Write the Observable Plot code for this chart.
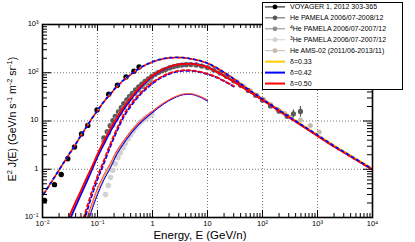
<!DOCTYPE html>
<html><head><meta charset="utf-8">
<script src="https://cdn.jsdelivr.net/npm/d3@7"></script>
<script src="https://cdn.jsdelivr.net/npm/@observablehq/plot@0.6"></script>
<style>
html,body{margin:0;padding:0;background:#fff;}
#wrap{position:relative;width:415px;height:242px;font-family:"Liberation Sans",Arial,Helvetica,sans-serif;}
#legend{position:absolute;left:262px;top:2px;}
</style></head><body><div id="wrap"></div>
<script>
// ---------- tick values & labels ----------
const X_TICKS = [0.01, 0.1, 1, 10, 100, 1000, 10000];
const X_TICK_LABELS = ["10⁻²", "10⁻¹", "1", "10", "10²", "10³", "10⁴"];
const Y_TICKS = [0.1, 1, 10, 100, 1000];
const Y_TICK_LABELS = ["10⁻¹", "1", "10", "10²", "10³"];
const X_TITLE = "Energy, E (GeV/n)";

// ---------- model curves (energy grid, GeV/n) ----------
const E_GRID = [0.01, 0.015, 0.02, 0.03, 0.04, 0.05, 0.065, 0.08, 0.1, 0.13, 0.17, 0.22, 0.3, 0.4, 0.5, 0.7, 1, 1.5, 2, 3, 4, 5, 7, 10, 15, 20, 30, 50, 100, 200, 500, 1000, 2000, 5000, 10000];
// LIS (dashed)
const LIS_033 = [0.29, 0.59, 0.98, 2.02, 3.35, 5.05, 8.1, 11.6, 16.6, 25, 36, 51, 71, 92, 111, 141, 169, 195, 206, 210, 205, 197, 182, 160, 127, 104, 76, 50, 29, 17.2, 8.7, 5.2, 3.1, 1.66, 1.03];
const LIS_042 = [0.28, 0.58, 0.97, 2.0, 3.3, 5.0, 8.0, 11.5, 16.5, 25, 36, 51, 71, 92, 110, 140, 168, 193, 204, 208, 203, 195, 180, 158, 125, 102, 75, 49, 28.5, 16.8, 8.5, 5.1, 3.05, 1.62, 1.0];
const LIS_050 = [0.28, 0.57, 0.96, 1.98, 3.28, 4.95, 7.9, 11.4, 16.3, 24.7, 35.5, 50, 70, 91, 109, 139, 166, 191, 202, 206, 201, 193, 178, 156, 123, 101, 74, 48.5, 28.2, 16.5, 8.3, 4.95, 2.95, 1.57, 0.98];
// modulated He (solid)
const MOD_033 = [null, null, null, 0.09, 0.195, 0.33, 0.65, 1.07, 1.9, 3.5, 6.3, 10.5, 18.4, 28.8, 39.5, 59.5, 85, 115, 133, 150, 155, 155, 148, 131, 105, 88, 67, 46, 28, 16.8, 8.5, 5.1, 3.1, 1.65, 1.03];
const MOD_042 = [null, null, null, 0.08, 0.17, 0.3, 0.58, 1.0, 1.8, 3.3, 6.0, 10, 17.5, 27.7, 38, 58, 84, 114, 132, 149, 154, 154, 147, 130, 104, 87, 66, 45.7, 27.5, 16.5, 8.4, 5.0, 3.0, 1.6, 1.0];
const MOD_050 = [null, null, null, 0.1, 0.21, 0.36, 0.7, 1.15, 2.05, 3.8, 6.8, 11.2, 19.5, 30, 41, 61, 87, 116, 133, 149, 153, 153, 146, 129, 103, 86, 65, 45, 27, 16.2, 8.2, 4.9, 2.95, 1.57, 0.98];
// modulated 4He (dashed, lower)
const HE4_042 = [null, null, null, null, null, 0.05, 0.14, 0.3, 0.62, 1.3, 2.9, 5.8, 12.2, 20, 28, 42, 60, 81, 94, 107, 110, 110, 104, 93, 79, 67, 52, null, null, null, null, null, null, null, null];
const HE4_050 = [null, null, null, null, null, 0.065, 0.17, 0.36, 0.72, 1.5, 3.3, 6.5, 13.5, 22, 30, 45, 63, 84, 97, 110, 113, 112, 106, 95, 80, 68, 53, null, null, null, null, null, null, null, null];
// modulated 3He (thin dotted)
const HE3_033 = [null, null, null, null, null, null, 0.085, 0.17, 0.33, 0.66, 1.15, 2.1, 3.65, 5.7, 7.6, 11.1, 15.5, 22, 27, 33.5, 36, 36, 32.5, 26.5, null, null, null, null, null, null, null, null, null, null, null];
const HE3_042 = [null, null, null, null, null, null, 0.07, 0.15, 0.3, 0.6, 1.05, 1.95, 3.45, 5.4, 7.3, 10.7, 15, 21.5, 26.5, 33, 35.5, 35.5, 32, 26, null, null, null, null, null, null, null, null, null, null, null];
const HE3_050 = [null, null, null, null, null, 0.03, 0.1, 0.2, 0.4, 0.75, 1.3, 2.3, 3.9, 6.0, 8.0, 11.5, 16, 22.5, 27.5, 34, 36.5, 36.5, 33, 27, null, null, null, null, null, null, null, null, null, null, null];

// ---------- data points ----------
const VOY_E = [0.0109, 0.0165, 0.0219, 0.0288, 0.0382, 0.0512, 0.0667, 0.098, 0.16, 0.23, 0.33, 0.46, 0.57];
const VOY_V = [0.225, 0.48, 0.78, 1.65, 2.9, 5.4, 8.1, 17, 36, 55, 82, 108, 132];
const PAM_E = [0.13, 0.15, 0.17, 0.19, 0.21, 0.24, 0.27, 0.3, 0.34, 0.38, 0.43, 0.49, 0.56, 0.64, 0.73, 0.84, 0.97, 1.12, 1.3, 1.5, 1.75, 2.05, 2.4, 2.85, 3.4, 4.1, 5.0, 6.2, 7.8, 10, 13, 17, 22, 30, 40, 55, 75, 100, 140, 200, 280, 365, 490];
const PAM_V = [4.5, 6.0, 8.0, 10.2, 12.5, 15.5, 19, 23, 27.5, 32, 37.5, 44, 51, 58, 66, 75, 84, 93, 102, 110, 118, 126, 133, 139, 144, 147, 148, 145, 138, 128, 114, 99, 85, 68, 55, 43, 34, 27, 20.5, 16, 12.5, 14.1, 15.8];
const PAM_ERR_E = [365, 490];
const PAM_ERR_LO = [11.5, 12];
const PAM_ERR_HI = [17, 20];
const HE4P_E = [0.13, 0.16, 0.19, 0.22, 0.26, 0.3, 0.35, 0.41, 0.48, 0.56, 0.66, 0.78, 0.92];
const HE4P_V = [3.8, 5.7, 8.2, 11, 14.5, 19, 24, 30, 36.5, 43.5, 51, 60, 69];
const HE3P_E = [0.14, 0.157, 0.172, 0.19, 0.21, 0.235, 0.26, 0.29, 0.32, 0.36, 0.4, 0.45, 0.5, 0.565, 0.64, 0.72, 0.8, 0.9, 0.98];
const HE3P_V = [0.3, 0.46, 0.68, 0.95, 1.3, 1.75, 2.2, 2.8, 3.4, 4.3, 5.2, 6.3, 7.4, 8.7, 10, 11.2, 12.2, 13.3, 14.1];
const AMS_E = [1.2, 1.6, 2.1, 2.8, 3.7, 4.9, 6.5, 8.6, 11.4, 15, 20, 26, 35, 46, 61, 80, 106, 140, 185, 250, 330, 490, 740, 1070];
const AMS_V = [100, 117, 130, 140, 146, 148, 144, 135, 122, 108, 92, 78, 64, 52, 42, 34, 27.5, 22, 17.5, 14.5, 12, 10.5, 8.1, 5.9];

// ---------- legend ----------
const LEG_SUP = ["", "", "4", "3", "", "", "", ""];
const LEG_TEXT = ["VOYAGER 1, 2012 303-365", "He PAMELA 2006/07-2008/12", "He PAMELA 2006/07-2007/12", "He PAMELA 2006/07-2007/12", "He AMS-02 (2011/06-2013/11)", "δ=0.33", "δ=0.42", "δ=0.50"];
const LEG_COLOR = ["#000000", "#5a5a5a", "#8e8e8e", "#d2d2d2", "#c6bab0", "#ffcc00", "#0000ff", "#ff0000"];
const LEG_MARKER = [true, true, true, true, true, false, false, false];

const YEL = "#ffcc00", BLU = "#0000ff", RED = "#ff0000";
const W = 415, H = 242, ML = 42, MR = 43, MT = 24, MB = 25;
const FW = W - ML - MR, FH = H - MT - MB;

const rows = (vals) => E_GRID.map((E, i) => ({E, v: vals[i]})).filter(d => d.v != null);
const pts = (es, vs) => es.map((E, i) => ({E, v: vs[i]}));

const minorX = d3.range(-2, 4).flatMap(p => d3.range(2, 10).map(m => m * 10 ** p));
const minorY = d3.range(-1, 3).flatMap(p => d3.range(2, 10).map(m => m * 10 ** p));

const line = (vals, stroke, sw, dash, off = 0) => Plot.line(rows(vals), {x: "E", y: "v", stroke, strokeWidth: sw, strokeDasharray: dash, strokeDashoffset: off, curve: "monotone-x", clip: true});

const chart = Plot.plot({
  width: W, height: H,
  marginLeft: ML, marginRight: MR, marginTop: MT, marginBottom: MB,
  style: {fontFamily: '"Liberation Sans", Arial, sans-serif', background: "white"},
  x: {type: "log", domain: [0.01, 10000], axis: null},
  y: {type: "log", domain: [0.1, 1000], axis: null},
  marks: [
    Plot.ruleX(X_TICKS.slice(1, -1), {stroke: "#777", strokeDasharray: "1,2"}),
    Plot.ruleY(Y_TICKS.slice(1, -1), {stroke: "#777", strokeDasharray: "1,2"}),
    // data
    Plot.dot(pts(HE3P_E, HE3P_V), {x: "E", y: "v", r: 2.8, fill: "#d2d2d2"}),
    Plot.dot(pts(AMS_E, AMS_V), {x: "E", y: "v", r: 2.5, fill: "#c6bab0"}),
    Plot.ruleX(PAM_ERR_E.map((E, i) => ({E, lo: PAM_ERR_LO[i], hi: PAM_ERR_HI[i]})), {x: "E", y1: "lo", y2: "hi", stroke: "#5a5a5a", strokeWidth: 1.2}),
    Plot.dot(pts(PAM_E, PAM_V), {x: "E", y: "v", r: 2.6, fill: "#5a5a5a"}),
    Plot.dot(pts(HE4P_E, HE4P_V), {x: "E", y: "v", r: 2.5, fill: "#8e8e8e"}),
    Plot.dot(pts(VOY_E, VOY_V), {x: "E", y: "v", r: 2.7, fill: "#000"}),
    // 3He thin dotted
    line(HE3_033, YEL, 1.2, "1,1"),
    line(HE3_042, BLU, 1.2, "1,1", 1),
    line(HE3_050, "#ff4040", 1.2, "1,1"),
    // 4He dashed
    line(HE4_042, BLU, 1.8, "3,3"),
    line(HE4_050, RED, 1.8, "3,3", 3),
    // solid total
    line(MOD_033, YEL, 1.8, null),
    line(MOD_042, BLU, 1.8, null),
    line(MOD_050, RED, 1.8, null),
    // LIS dashed (interleaved tri-colour)
    line(LIS_033, YEL, 1.8, "2,4", 0),
    line(LIS_050, RED, 1.8, "2,4", 2),
    line(LIS_042, BLU, 1.8, "2,4", 4),
    // ticks
    Plot.ruleX(X_TICKS, {stroke: "#000", insetTop: FH - 7}),
    Plot.ruleX(X_TICKS, {stroke: "#000", insetBottom: FH - 7}),
    Plot.ruleX(minorX, {stroke: "#000", insetTop: FH - 4}),
    Plot.ruleX(minorX, {stroke: "#000", insetBottom: FH - 4}),
    Plot.ruleY(Y_TICKS, {stroke: "#000", insetRight: FW - 9}),
    Plot.ruleY(Y_TICKS, {stroke: "#000", insetLeft: FW - 9}),
    Plot.ruleY(minorY, {stroke: "#000", insetRight: FW - 5}),
    Plot.ruleY(minorY, {stroke: "#000", insetLeft: FW - 5}),
    Plot.frame({stroke: "#000", strokeWidth: 1.6}),
    // tick labels
    Plot.text(X_TICKS, {x: d => d, text: (d, i) => X_TICK_LABELS[i], frameAnchor: "bottom", dy: 8, fontSize: 7.5, fill: "#000"}),
    Plot.text(Y_TICKS, {y: d => d, text: (d, i) => Y_TICK_LABELS[i], frameAnchor: "left", dx: -4, dy: -1, textAnchor: "end", fontSize: 7.5, fill: "#000"})
  ]
});

const svg = d3.select(chart);
// axis titles
svg.append("text").attr("x", 200).attr("y", 239).attr("text-anchor", "middle")
  .attr("font-size", 11.5).attr("fill", "#000").text(X_TITLE);
const yt = svg.append("text").attr("transform", "translate(16,119) rotate(-90)")
  .attr("text-anchor", "middle").attr("font-size", 10.5).attr("fill", "#000");
const YT_PARTS = [["E", 0], ["2", 1], [" J(E) (GeV/n s", 0], ["-1", 1], [" m", 0], ["-2", 1], [" sr", 0], ["-1", 1], [")", 0]];
YT_PARTS.forEach(([t, sup]) => {
  yt.append("tspan").attr("font-size", sup ? 7.5 : 10.5).attr("baseline-shift", sup ? "45%" : "0").text(t);
});

const wrap = document.getElementById("wrap");
wrap.appendChild(chart);

// legend
const lg = d3.create("svg").attr("id", "legend").attr("width", 141).attr("height", 88)
  .style("font-family", '"Liberation Sans", Arial, sans-serif');
lg.append("rect").attr("x", 0.5).attr("y", 0.5).attr("width", 140).attr("height", 87)
  .attr("fill", "white").attr("stroke", "#000");
LEG_TEXT.forEach((t, i) => {
  const y = 4.9 + i * 10.95;
  lg.append("line").attr("x1", 3).attr("x2", 23).attr("y1", y).attr("y2", y)
    .attr("stroke", LEG_COLOR[i]).attr("stroke-width", LEG_MARKER[i] ? 1 : 2);
  if (LEG_MARKER[i]) lg.append("circle").attr("cx", 13).attr("cy", y).attr("r", 2.4).attr("fill", LEG_COLOR[i]);
  const tx = lg.append("text").attr("x", 28).attr("y", y).attr("dy", "0.35em").attr("font-size", 7).attr("fill", "#000");
  if (LEG_SUP[i]) tx.append("tspan").attr("font-size", 5).attr("baseline-shift", "45%").text(LEG_SUP[i]);
  tx.append("tspan").text(t);
});
wrap.appendChild(lg.node());
</script></body></html>
